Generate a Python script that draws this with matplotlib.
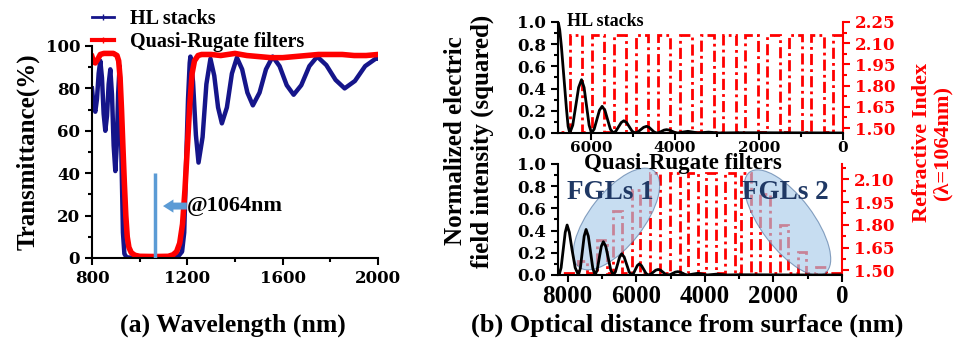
import matplotlib
matplotlib.use('Agg')
import matplotlib.pyplot as plt
from matplotlib.patches import Ellipse
from matplotlib.lines import Line2D
from matplotlib.ticker import MultipleLocator

# (a) Transmittance spectra
hl_wl = [800, 807, 814, 821, 828, 835, 842, 849, 856, 863, 870, 877, 884, 891, 898, 904, 910, 916,
         920, 925, 930, 936, 945, 960, 1000, 1064, 1120, 1160, 1178, 1187, 1195, 1203, 1210, 1213,
         1224, 1236, 1247, 1264, 1280, 1297, 1313, 1329, 1345, 1366, 1387, 1408, 1430, 1452, 1475,
         1503, 1530, 1558, 1587, 1617, 1646, 1678, 1712, 1745, 1783, 1822, 1860, 1903, 1946, 1990, 2000]
hl_t = [80, 72, 69, 75, 87, 93, 85, 68, 60, 67, 82, 89, 77, 53, 41, 53, 78, 90.5,
        70, 40, 12, 2, 0.3, 0.2, 0.1, 0.1, 0.2, 0.5, 3, 12, 45, 75, 92, 95,
        83, 58, 45, 57, 82, 94, 86, 71, 63.5, 71, 87, 94.5, 89, 78, 72,
        78, 89, 95, 90.5, 81.5, 77, 81.5, 90.5, 95, 91, 84, 80, 83.5, 90.5, 94, 94]

qr_wl = [800, 807, 814, 823, 835, 850, 870, 890, 905, 912, 918, 924, 930, 936, 942, 948, 955, 965,
         980, 1000, 1064, 1120, 1140, 1155, 1168, 1180, 1190, 1200, 1210, 1220, 1230, 1245, 1260,
         1300, 1340, 1400, 1450, 1500, 1550, 1600, 1650, 1700, 1750, 1800, 1850, 1900, 1950, 2000]
qr_t = [95, 92.5, 92, 93.5, 96, 96.5, 96.5, 96.5, 95.5, 93, 85, 70, 52, 35, 20, 10, 5, 2.5,
        1.3, 0.8, 0.7, 0.8, 1.5, 3, 7, 16, 32, 52, 72, 87, 93, 95.5, 96,
        96, 95.5, 96.5, 95.5, 95, 94.5, 94.5, 95, 95.5, 96, 96, 96, 95.5, 95.5, 96]

# (b) upper: HL stacks, field intensity vs optical distance
hl_dist = [6775, 6740, 6700, 6640, 6580, 6540, 6500,
           6430, 6360, 6290, 6221, 6160, 6100, 6040, 5983,
           5920, 5857, 5794, 5731, 5665, 5600, 5535, 5469,
           5405, 5341, 5277, 5214, 5148, 5083, 5017, 4952,
           4883, 4813, 4744, 4674, 4614, 4555, 4495, 4436,
           4376, 4317, 4257, 4198, 4131, 4063, 3996, 3929,
           3810, 3690, 3570, 3450, 3325, 3200, 3075, 2950, 2500, 2000, 1000, 0]
hl_field = [1.0, 0.93, 0.78, 0.5, 0.22, 0.06, 0.0,
            0.07, 0.24, 0.41, 0.48, 0.41, 0.24, 0.07, 0.0,
            0.035, 0.12, 0.205, 0.24, 0.205, 0.12, 0.035, 0.0,
            0.016, 0.055, 0.094, 0.11, 0.094, 0.055, 0.016, 0.0,
            0.009, 0.03, 0.051, 0.06, 0.051, 0.03, 0.009, 0.0,
            0.004, 0.015, 0.026, 0.03, 0.026, 0.015, 0.004, 0.0,
            0.008, 0.015, 0.008, 0.0, 0.004, 0.008, 0.004, 0.0, 0.002, 0.002, 0.001, 0.0]

hl_edges = [0, 236, 458, 758, 980, 1280, 1502, 1802, 2024, 2324, 2546, 2846, 3068, 3368,
            3590, 3890, 4112, 4412, 4634, 4934, 5156, 5456, 5678, 5978, 6200, 6500, 6780]
hl_index = [2.16, 1.47] * 13

# (b) lower: quasi-rugate filters
qr_dist = [8250, 8190, 8130, 8070, 8015, 7950, 7870, 7780, 7686,
           7630, 7574, 7518, 7462, 7397, 7331, 7266, 7200,
           7140, 7080, 7020, 6959, 6887, 6814, 6742, 6669,
           6608, 6546, 6485, 6424, 6352, 6279, 6207, 6134,
           6079, 6024, 5968, 5913, 5848, 5782, 5717, 5651,
           5578, 5506, 5433, 5360, 5290, 5219, 5149, 5078,
           5005, 4933, 4860, 4788, 4715, 4643, 4570, 4497,
           4352, 4206, 4068, 3930, 3790, 3650, 3510, 3370, 3000, 2000, 1000, 0]
qr_field = [0.0, 0.066, 0.225, 0.384, 0.45, 0.384, 0.225, 0.066, 0.0,
            0.06, 0.205, 0.35, 0.41, 0.35, 0.205, 0.06, 0.0,
            0.044, 0.15, 0.256, 0.30, 0.256, 0.15, 0.044, 0.0,
            0.028, 0.095, 0.162, 0.19, 0.162, 0.095, 0.028, 0.0,
            0.015, 0.05, 0.085, 0.10, 0.085, 0.05, 0.015, 0.0,
            0.007, 0.025, 0.043, 0.05, 0.043, 0.025, 0.007, 0.0,
            0.004, 0.015, 0.026, 0.03, 0.026, 0.015, 0.004, 0.0,
            0.008, 0.015, 0.008, 0.0, 0.004, 0.008, 0.004, 0.0, 0.002, 0.001, 0.0, 0.0]

qr_edges = [0, 465, 756, 1047, 1291, 1581, 1823, 2113, 2404, 2645, 2936, 3131, 3422, 3663, 3953,
            4198, 4488, 4730, 5020, 5311, 5602, 5892, 6134, 6424, 6669, 6860, 7151, 7442, 7686, 8280]
qr_index = [1.48, 1.52, 1.48, 1.62, 1.48, 1.80, 1.48, 2.00, 1.48, 2.14, 1.48, 2.14, 1.48, 2.14, 1.48,
            2.14, 1.48, 2.14, 1.48, 2.14, 1.48, 2.03, 1.48, 1.89, 1.48, 1.70, 1.48, 1.56, 1.48]

NAVY = '#15158a'
RED = '#ff0000'
ARROW = '#5b9bd5'
SERIF = 'Liberation Serif'
WIDE = 'DejaVu Serif'

plt.rcParams['font.family'] = SERIF
plt.rcParams['font.weight'] = 'bold'
plt.rcParams['axes.labelweight'] = 'bold'


def style_axis(ax, label_font, label_size):
    for s in ['top', 'right']:
        ax.spines[s].set_visible(False)
    for s in ['left', 'bottom']:
        ax.spines[s].set_linewidth(1.5)
    ax.tick_params(which='both', direction='out', width=1.5, labelsize=label_size,
                   labelfontfamily=label_font)
    ax.tick_params(which='major', length=5)
    ax.tick_params(which='minor', length=3)


def add_index_axis(ax, edges, values, ylim, ticks):
    axr = ax.twinx()
    axr.stairs(values, edges, baseline=None, color=RED, lw=2, linestyle=(0, (4, 1.5, 1, 1.5)))
    axr.set_ylim(*ylim)
    axr.set_yticks(ticks)
    axr.yaxis.set_minor_locator(MultipleLocator(0.075))
    for s in ['top', 'left', 'bottom']:
        axr.spines[s].set_visible(False)
    axr.spines['right'].set_color(RED)
    axr.spines['right'].set_linewidth(1.5)
    axr.tick_params(which='both', direction='out', width=1.5, colors=RED,
                    labelsize=12, labelfontfamily=WIDE)
    axr.tick_params(which='major', length=5)
    axr.tick_params(which='minor', length=3)
    ax.set_zorder(axr.get_zorder() + 1)
    ax.patch.set_visible(False)
    return axr


def main():
    fig = plt.figure(figsize=(9.57, 3.44), dpi=100)

    # ---- (a) transmittance ----
    ax = fig.add_axes([0.0961, 0.25, 0.2989, 0.6163])
    ax.plot(hl_wl, hl_t, color=NAVY, lw=3.2)
    ax.plot(qr_wl, qr_t, color=RED, lw=4)
    ax.vlines(1064, 0, 40, color=ARROW, lw=2.5, zorder=5)
    ax.annotate('', xy=(1098, 24.5), xytext=(1198, 24.5),
                arrowprops=dict(arrowstyle='simple,head_length=0.75,head_width=0.95,tail_width=0.5',
                                fc=ARROW, ec='none', mutation_scale=10, shrinkA=0, shrinkB=0))
    ax.text(1200, 24.5, '@1064nm', fontsize=16, ha='left', va='center')
    ax.set_xlim(800, 2000)
    ax.set_ylim(0, 100)
    ax.set_xticks([800, 1200, 1600, 2000])
    ax.xaxis.set_minor_locator(MultipleLocator(200))
    ax.yaxis.set_minor_locator(MultipleLocator(10))
    style_axis(ax, WIDE, 12)
    ax.set_ylabel('Transmittance(%)', fontsize=18, fontweight='bold', labelpad=4)

    handles = [Line2D([], [], color=NAVY, lw=2, marker='+', markersize=5),
               Line2D([], [], color=RED, lw=3, marker='+', markersize=5)]
    ax.legend(handles, ['HL stacks', 'Quasi-Rugate filters'], loc='upper left',
              bbox_to_anchor=(0.0, 1.175), frameon=False, fontsize=14.5,
              handlelength=1.1, handletextpad=0.8, borderaxespad=0, borderpad=0,
              labelspacing=0.15)

    # ---- (b) upper: HL stacks ----
    ax1 = fig.add_axes([0.5831, 0.6134, 0.2978, 0.3227])
    ax1.plot(hl_dist, hl_field, color='black', lw=2)
    ax1.set_xlim(6780, 0)
    ax1.set_ylim(0, 1.0)
    ax1.set_xticks([6000, 4000, 2000, 0])
    ax1.xaxis.set_minor_locator(MultipleLocator(1000))
    ax1.set_yticks([0, 0.2, 0.4, 0.6, 0.8, 1.0])
    ax1.yaxis.set_major_formatter('{x:.1f}')
    ax1.yaxis.set_minor_locator(MultipleLocator(0.1))
    style_axis(ax1, WIDE, 12)
    ax1.tick_params(axis='x', labelsize=11, pad=0.5)
    add_index_axis(ax1, hl_edges, hl_index, (1.465, 2.25),
                   [1.50, 1.65, 1.80, 1.95, 2.10, 2.25])
    ax1.text(0.03, 1.0, 'HL stacks', transform=ax1.transAxes, fontsize=13,
             ha='left', va='center')

    # ---- (b) lower: quasi-rugate ----
    ax2 = fig.add_axes([0.5831, 0.2006, 0.2968, 0.3227])
    ax2.plot(qr_dist, qr_field, color='black', lw=2)
    ax2.set_xlim(8280, 0)
    ax2.set_ylim(0, 1.0)
    ax2.set_xticks([8000, 6000, 4000, 2000, 0])
    ax2.xaxis.set_minor_locator(MultipleLocator(1000))
    ax2.set_yticks([0, 0.2, 0.4, 0.6, 0.8, 1.0])
    ax2.yaxis.set_major_formatter('{x:.1f}')
    ax2.yaxis.set_minor_locator(MultipleLocator(0.1))
    style_axis(ax2, WIDE, 12)
    ax2.tick_params(axis='x', labelsize=18, labelfontfamily=SERIF, pad=2)
    add_index_axis(ax2, qr_edges, qr_index, (1.47, 2.2),
                   [1.50, 1.65, 1.80, 1.95, 2.10])
    ax2.text(0.44, 1.0, 'Quasi-Rugate filters', transform=ax2.transAxes, fontsize=16.5,
             ha='center', va='center')

    # graded-layer highlights
    for cx, cy, w, h, ang in [(6.165, 1.25, 1.22, 0.54, 52), (7.875, 1.215, 1.26, 0.52, -53)]:
        fig.add_artist(Ellipse((cx, cy), w, h, angle=ang, transform=fig.dpi_scale_trans,
                               fc='#a9cbea', ec='#4f73a0', lw=0.8, alpha=0.65, zorder=5))
    ax2.text(0.183, 0.739, 'FGLs 1', transform=ax2.transAxes, fontsize=19.5,
             color='#1f3864', ha='center', va='center', zorder=10)
    ax2.text(0.799, 0.739, 'FGLs 2', transform=ax2.transAxes, fontsize=19.5,
             color='#1f3864', ha='center', va='center', zorder=10)
    ax2.set_zorder(6)
    ax2.patch.set_visible(False)

    # shared labels
    fig.text(0.49, 0.59, 'Normalized electric\nfield intensity (squared)', rotation=90,
             fontsize=18, ha='center', va='center', linespacing=1.2)
    fig.text(0.974, 0.585, 'Refractive Index\n(\u03bb=1064nm)', rotation=90, color=RED,
             fontsize=16, ha='center', va='center', linespacing=1.0)
    fig.text(0.243, 0.055, '(a) Wavelength (nm)', fontsize=18.5, ha='center', va='center')
    fig.text(0.718, 0.055, '(b) Optical distance from surface (nm)', fontsize=19,
             ha='center', va='center')

    fig.savefig('out.png', dpi=100)


if __name__ == '__main__':
    main()
